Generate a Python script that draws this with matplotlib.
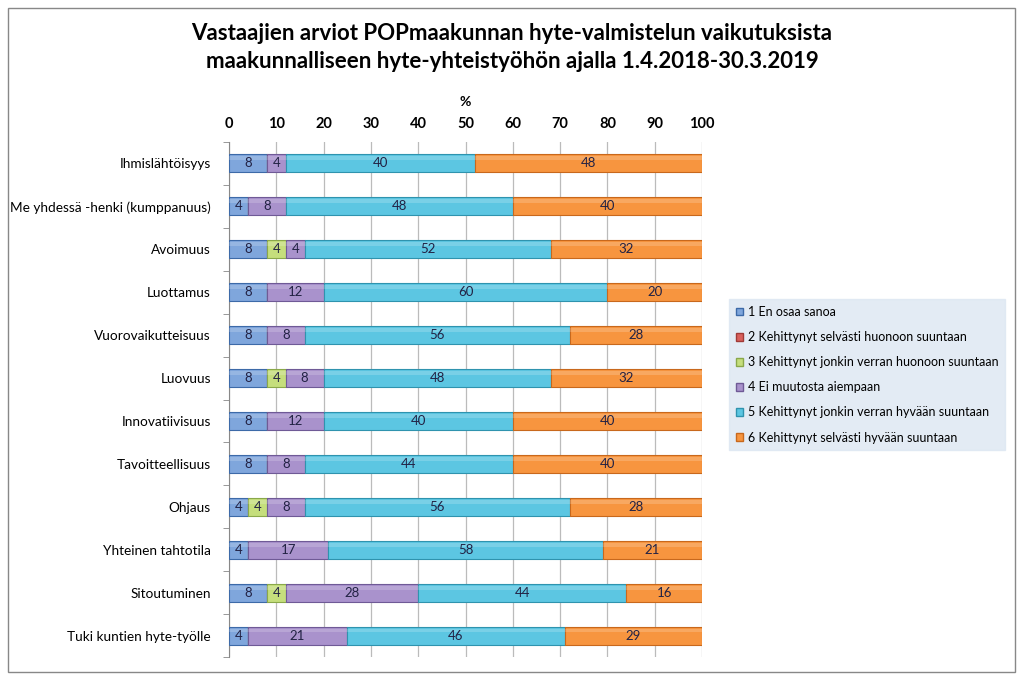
import matplotlib
matplotlib.use("Agg")
import matplotlib.pyplot as plt
import matplotlib.patches as mpatches
import numpy as np

plt.rcParams['font.family'] = ['Lato', 'DejaVu Sans']

categories = ["Ihmislähtöisyys", "Me yhdessä -henki (kumppanuus)", "Avoimuus", "Luottamus",
              "Vuorovaikutteisuus", "Luovuus", "Innovatiivisuus", "Tavoitteellisuus",
              "Ohjaus", "Yhteinen tahtotila", "Sitoutuminen", "Tuki kuntien hyte-työlle"]
series_names = ["1 En osaa sanoa", "2 Kehittynyt selvästi huonoon suuntaan",
                "3 Kehittynyt jonkin verran huonoon suuntaan", "4 Ei muutosta aiempaan",
                "5 Kehittynyt jonkin verran hyvään suuntaan", "6 Kehittynyt selvästi hyvään suuntaan"]
s1 = [8, 4, 8, 8, 8, 8, 8, 8, 4, 4, 8, 4]
s2 = [0, 0, 0, 0, 0, 0, 0, 0, 0, 0, 0, 0]
s3 = [0, 0, 4, 0, 0, 4, 0, 0, 4, 0, 4, 0]
s4 = [4, 8, 4, 12, 8, 8, 12, 8, 8, 17, 28, 21]
s5 = [40, 48, 52, 60, 56, 48, 40, 44, 56, 58, 44, 46]
s6 = [48, 40, 32, 20, 28, 32, 40, 40, 28, 21, 16, 29]
ticks = [0, 10, 20, 30, 40, 50, 60, 70, 80, 90, 100]

faces = ["#7fa6dc", "#d9605c", "#c5de7c", "#a992cc", "#5cc6e2", "#f7953f"]
edges = ["#3d6aa8", "#a03a37", "#8aa84a", "#6f5a96", "#2f93ae", "#c8681c"]

fig = plt.figure(figsize=(10.24, 6.78), dpi=100)
ax = fig.add_axes([229/1024, 1-657/678, 473/1024, 515/678])

data = [s1, s2, s3, s4, s5, s6]
y = np.arange(len(categories))
left = np.zeros(len(categories))
h = 0.42
for i, vals in enumerate(data):
    vals = np.array(vals, dtype=float)
    ax.barh(y, vals, left=left, height=h, color=faces[i], edgecolor=edges[i],
            linewidth=0.8, label=series_names[i], zorder=3)
    # soft highlight on the upper part for a glossy look
    ax.barh(y - h*0.28, vals, left=left, height=h*0.22, color="white", alpha=0.18,
            linewidth=0, zorder=4)
    for j, v in enumerate(vals):
        if v > 0:
            ax.text(left[j] + v/2, y[j], f"{int(v)}", ha="center", va="center",
                    fontsize=9.5, color="#222244", zorder=5)
    left += vals

ax.set_xlim(0, 100)
ax.set_ylim(len(categories) - 0.5, -0.5)
ax.xaxis.tick_top()
ax.set_xticks(ticks)
ax.set_xticklabels([str(t) for t in ticks], fontsize=10.5, fontweight="bold")
ax.tick_params(axis="x", length=0, pad=8)
ax.set_yticks(y)
ax.set_yticklabels(categories, fontsize=9.8)
ax.tick_params(axis="y", length=0, pad=13)
ax.set_yticks(np.arange(len(categories) + 1) - 0.5, minor=True)
ax.tick_params(axis="y", which="minor", length=4, color="#888888", direction="out")
ax.grid(axis="x", color="#bbbbbb", linewidth=0.9, zorder=0)
for sp in ["top", "right", "bottom"]:
    ax.spines[sp].set_visible(False)
ax.spines["left"].set_color("#888888")

fig.text(465/1024, 1-102/678, "%", ha="center", va="center", fontsize=10, fontweight="bold")
fig.text(512/1024, 1-33/678, "Vastaajien arviot POPmaakunnan hyte-valmistelun vaikutuksista",
         ha="center", va="center", fontsize=16, fontweight="bold")
fig.text(512/1024, 1-61/678, "maakunnalliseen hyte-yhteistyöhön ajalla 1.4.2018-30.3.2019",
         ha="center", va="center", fontsize=16, fontweight="bold")

handles = [mpatches.Patch(facecolor=faces[i], edgecolor=edges[i]) for i in range(6)]
leg = fig.legend(handles, series_names, loc="upper left",
                 bbox_to_anchor=(729/1024, 1-299/678), fontsize=9, frameon=True,
                 handlelength=0.6, handleheight=0.6, handletextpad=0.35,
                 labelspacing=1.05, borderpad=0.55, borderaxespad=0.0, fancybox=False)
leg.get_frame().set_facecolor("#dce6f2")
leg.get_frame().set_edgecolor("#dce6f2")

fig.patches.append(mpatches.Rectangle((8/1024, 1-672/678), 1007/1024, 664/678,
                                      transform=fig.transFigure, fill=False,
                                      edgecolor="#888888", linewidth=1.0))
fig.savefig("out.png", dpi=100)
